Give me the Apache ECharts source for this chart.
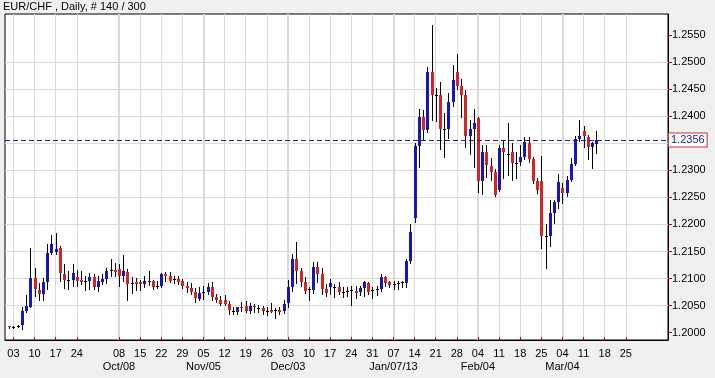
<!DOCTYPE html>
<html><head><meta charset="utf-8">
<script src="https://cdn.jsdelivr.net/npm/echarts@6/dist/echarts.min.js"></script>
<style>html,body{margin:0;padding:0;background:#f0f0f0}#c{width:715px;height:378px}</style>
</head><body><div id="c"></div>
<script>
const chartTitle = 'EUR/CHF , Daily, # 140 / 300';
const firstCategory = '2012-08-30';
const categoryCount = 158;
const firstBarDate = '2012-08-31';

const open = [
1.2012,1.2010,1.2013,1.2015,1.2041,1.2048,1.2101,1.2079,1.2071,1.2093,
1.2147,1.2150,1.2157,1.2109,1.2098,1.2097,1.2103,1.2098,1.2096,1.2096,
1.2103,1.2085,1.2093,1.2099,1.2115,1.2115,1.2117,1.2105,1.2113,1.2091,
1.2093,1.2093,1.2090,1.2096,1.2096,1.2087,1.2087,1.2109,1.2105,1.2099,
1.2100,1.2096,1.2087,1.2082,1.2076,1.2062,1.2076,1.2076,1.2084,1.2066,
1.2060,1.2061,1.2053,1.2041,1.2038,1.2048,1.2050,1.2040,1.2050,1.2046,
1.2046,1.2041,1.2042,1.2042,1.2042,1.2040,1.2054,1.2084,1.2136,1.2114,
1.2093,1.2080,1.2079,1.2122,1.2109,1.2080,1.2084,1.2084,1.2084,1.2076,
1.2077,1.2078,1.2077,1.2076,1.2082,1.2091,1.2078,1.2081,1.2080,1.2102,
1.2093,1.2090,1.2091,1.2093,1.2091,1.2133,1.2211,1.2345,1.2399,1.2374,
1.2482,1.2440,1.2439,1.2376,1.2377,1.2427,1.2482,1.2456,1.2439,1.2363,
1.2376,1.2396,1.2281,1.2334,1.2308,1.2297,1.2264,1.2342,1.2331,1.2334,
1.2313,1.2316,1.2325,1.2351,1.2320,1.2281,1.2280,1.2179,1.2179,1.2221,
1.2241,1.2267,1.2259,1.2283,1.2312,1.2358,1.2372,1.2362,1.2344,1.2348
];
const high = [
1.2013,1.2013,1.2015,1.2048,1.2069,1.2156,1.2119,1.2091,1.2101,1.2163,
1.2180,1.2184,1.2161,1.2126,1.2114,1.2126,1.2115,1.2114,1.2105,1.2111,
1.2109,1.2105,1.2108,1.2120,1.2136,1.2128,1.2126,1.2143,1.2117,1.2102,
1.2101,1.2097,1.2105,1.2114,1.2097,1.2096,1.2111,1.2113,1.2113,1.2105,
1.2105,1.2099,1.2093,1.2091,1.2082,1.2085,1.2087,1.2091,1.2093,1.2071,
1.2068,1.2070,1.2059,1.2047,1.2048,1.2056,1.2059,1.2054,1.2053,1.2052,
1.2050,1.2047,1.2054,1.2046,1.2047,1.2060,1.2097,1.2145,1.2168,1.2120,
1.2102,1.2084,1.2130,1.2130,1.2120,1.2090,1.2099,1.2090,1.2093,1.2084,
1.2085,1.2087,1.2087,1.2087,1.2096,1.2093,1.2084,1.2087,1.2108,1.2105,
1.2096,1.2095,1.2095,1.2096,1.2136,1.2200,1.2350,1.2413,1.2411,1.2491,
1.2568,1.2453,1.2464,1.2405,1.2443,1.2495,1.2515,1.2468,1.2448,1.2393,
1.2414,1.2399,1.2347,1.2347,1.2322,1.2302,1.2347,1.2356,1.2387,1.2350,
1.2334,1.2347,1.2361,1.2361,1.2324,1.2285,1.2327,1.2200,1.2246,1.2246,
1.2294,1.2277,1.2290,1.2323,1.2364,1.2393,1.2381,1.2366,1.2352,1.2372
];
const low = [
1.2008,1.2008,1.2010,1.2007,1.2038,1.2047,1.2068,1.2060,1.2061,1.2080,
1.2145,1.2145,1.2095,1.2082,1.2080,1.2087,1.2087,1.2090,1.2079,1.2080,
1.2080,1.2077,1.2090,1.2091,1.2105,1.2105,1.2087,1.2096,1.2060,1.2074,
1.2079,1.2079,1.2085,1.2088,1.2080,1.2082,1.2085,1.2096,1.2093,1.2091,
1.2090,1.2082,1.2076,1.2071,1.2056,1.2060,1.2062,1.2072,1.2060,1.2056,
1.2052,1.2052,1.2034,1.2034,1.2034,1.2041,1.2038,1.2036,1.2039,1.2039,
1.2034,1.2033,1.2038,1.2028,1.2034,1.2036,1.2048,1.2077,1.2091,1.2087,
1.2074,1.2060,1.2074,1.2093,1.2072,1.2068,1.2072,1.2066,1.2072,1.2066,
1.2068,1.2052,1.2064,1.2070,1.2068,1.2072,1.2064,1.2070,1.2077,1.2087,
1.2084,1.2080,1.2080,1.2085,1.2085,1.2128,1.2205,1.2307,1.2356,1.2370,
1.2393,1.2391,1.2339,1.2324,1.2359,1.2418,1.2450,1.2399,1.2344,1.2331,
1.2307,1.2260,1.2257,1.2288,1.2282,1.2252,1.2261,1.2285,1.2291,1.2282,
1.2285,1.2310,1.2320,1.2316,1.2276,1.2259,1.2156,1.2119,1.2161,1.2203,
1.2230,1.2240,1.2253,1.2280,1.2309,1.2354,1.2344,1.2321,1.2304,1.2332
];
const close = [
1.2010,1.2010,1.2013,1.2041,1.2050,1.2101,1.2080,1.2071,1.2093,1.2147,
1.2163,1.2154,1.2111,1.2098,1.2098,1.2111,1.2096,1.2094,1.2096,1.2103,
1.2084,1.2096,1.2099,1.2114,1.2115,1.2113,1.2105,1.2114,1.2090,1.2091,
1.2090,1.2090,1.2096,1.2096,1.2085,1.2087,1.2108,1.2105,1.2096,1.2099,
1.2093,1.2087,1.2082,1.2076,1.2064,1.2073,1.2076,1.2084,1.2066,1.2060,
1.2053,1.2053,1.2042,1.2041,1.2047,1.2046,1.2040,1.2050,1.2047,1.2046,
1.2041,1.2041,1.2039,1.2042,1.2039,1.2053,1.2084,1.2136,1.2114,1.2093,
1.2077,1.2080,1.2122,1.2109,1.2080,1.2074,1.2091,1.2084,1.2076,1.2076,
1.2077,1.2078,1.2074,1.2082,1.2093,1.2076,1.2078,1.2081,1.2102,1.2091,
1.2088,1.2090,1.2091,1.2093,1.2133,1.2186,1.2345,1.2399,1.2374,1.2482,
1.2440,1.2440,1.2376,1.2376,1.2427,1.2466,1.2456,1.2439,1.2363,1.2376,
1.2387,1.2281,1.2334,1.2310,1.2296,1.2254,1.2342,1.2334,1.2331,1.2313,
1.2313,1.2325,1.2353,1.2320,1.2281,1.2264,1.2178,1.2179,1.2221,1.2241,
1.2278,1.2259,1.2283,1.2312,1.2358,1.2364,1.2364,1.2344,1.2351,1.2356
];

const tickDates = ['2012-09-03','2012-09-10','2012-09-17','2012-09-24','2012-10-08','2012-10-15','2012-10-22','2012-10-29',
'2012-11-05','2012-11-12','2012-11-19','2012-11-26','2012-12-03','2012-12-10','2012-12-17','2012-12-24','2012-12-31',
'2013-01-07','2013-01-14','2013-01-21','2013-01-28','2013-02-04','2013-02-11','2013-02-18','2013-02-25',
'2013-03-04','2013-03-11','2013-03-18','2013-03-25'];
const monthLabels = {'2012-10-08':'Oct/08','2012-11-05':'Nov/05','2012-12-03':'Dec/03','2013-01-07':'Jan/07/13','2013-02-04':'Feb/04','2013-03-04':'Mar/04'};
const yTicks = [1.2000,1.2050,1.2100,1.2150,1.2200,1.2250,1.2300,1.2350,1.2400,1.2450,1.2500,1.2550];
const yMin = 1.19865, yMax = 1.25888;
const currentPrice = 1.2356;

const UP = '#1717b8', DOWN = '#d42424';
const GRID = '#dadada';
const FONT = '"Liberation Sans", Arial, sans-serif';

function weekdays(start, n) {
  const out = []; const d = new Date(start + 'T00:00:00Z');
  while (out.length < n) {
    const w = d.getUTCDay();
    if (w !== 0 && w !== 6) out.push(d.toISOString().slice(0, 10));
    d.setUTCDate(d.getUTCDate() + 1);
  }
  return out;
}
const categories = weekdays(firstCategory, categoryCount);
const offset = categories.indexOf(firstBarDate);
const candleData = open.map((o, i) => [i + offset, o, close[i], low[i], high[i]]);
const tickSet = new Set(tickDates);
const isTick = (idx) => tickSet.has(categories[idx]);
const isMonth = (idx) => !!monthLabels[categories[idx]];
const isWeekOnly = (idx) => isTick(idx) && !isMonth(idx);

const chart = echarts.init(document.getElementById('c'), null, {renderer: 'canvas'});
chart.setOption({
  animation: false,
  backgroundColor: '#f0f0f0',
  title: {text: chartTitle, left: 3, top: 1, padding: 0,
    textStyle: {fontFamily: FONT, fontSize: 11, fontWeight: 'normal', color: '#000'}},
  grid: {left: 5, right: 47, top: 14, bottom: 38, show: true, backgroundColor: '#fff', borderColor: '#000', borderWidth: 1},
  xAxis: [{
    type: 'category', data: categories, boundaryGap: false, position: 'bottom',
    axisLine: {show: true, lineStyle: {color: '#000', width: 1}},
    axisTick: {show: true, inside: true, length: 3, interval: isTick, lineStyle: {color: '#cc0000'}},
    splitLine: {show: true, interval: isWeekOnly, lineStyle: {color: GRID, width: 1}},
    axisLabel: {interval: isTick, margin: 7, fontFamily: FONT, fontSize: 11, color: '#000', lineHeight: 13,
      formatter: v => monthLabels[v] ? v.slice(8) + '\n' + monthLabels[v] : v.slice(8)}
  }, {
    type: 'category', data: categories, boundaryGap: false, position: 'bottom',
    axisLine: {show: false}, axisTick: {show: false}, axisLabel: {show: false},
    splitLine: {show: true, interval: isMonth, lineStyle: {color: GRID, width: 2}}
  }],
  yAxis: {
    type: 'value', position: 'right', min: yMin, max: yMax, scale: true,
    splitNumber: 12, minInterval: 0.005, maxInterval: 0.005,
    axisLine: {show: true, lineStyle: {color: '#000'}},
    axisTick: {show: true, length: 4, customValues: yTicks, lineStyle: {color: '#cc0000'}},
    splitLine: {show: true, showMinLine: false, showMaxLine: false, lineStyle: {color: GRID, width: 1}},
    axisLabel: {customValues: yTicks, margin: 4, fontFamily: FONT, fontSize: 11, color: '#000',
      formatter: v => Number(v).toFixed(4)}
  },
  series: [{
    type: 'custom',
    xAxisIndex: 0,
    data: candleData,
    encode: {x: 0, y: [1, 2, 3, 4]},
    clip: true,
    z: 3,
    renderItem: function (params, api) {
      const k = api.value(0), o = api.value(1), c = api.value(2), l = api.value(3), h = api.value(4);
      const pO = api.coord([k, o]), pC = api.coord([k, c]), pL = api.coord([k, l]), pH = api.coord([k, h]);
      const x = Math.round(pO[0]);
      const top = Math.round(Math.min(pO[1], pC[1])), bot = Math.round(Math.max(pO[1], pC[1]));
      const fill = o === c ? '#000' : (c > o ? UP : DOWN);
      return {type: 'group', children: [
        {type: 'line', shape: {x1: x + 0.5, y1: Math.round(pH[1]), x2: x + 0.5, y2: Math.round(pL[1]) + 1},
          style: {stroke: '#000', lineWidth: 1}},
        {type: 'rect', shape: {x: x - 1, y: top, width: 3, height: Math.max(1, bot - top)}, style: {fill: fill}}
      ]};
    }
  }, {
    type: 'line', xAxisIndex: 0, data: [[categories[close.length - 1 + offset], currentPrice]],
    symbol: 'none', silent: true, z: 4,
    markLine: {
      silent: true, symbol: ['none', 'none'], precision: 4,
      lineStyle: {color: '#202088', type: [5, 3], width: 1},
      label: {position: 'end', distance: 1, formatter: currentPrice.toFixed(4), fontFamily: FONT, fontSize: 11,
        color: '#202088', backgroundColor: '#fff', borderColor: '#c83030', borderWidth: 1, padding: [1, 2, 1, 2], lineHeight: 11},
      data: [{yAxis: currentPrice}]
    }
  }]
});
</script></body></html>
